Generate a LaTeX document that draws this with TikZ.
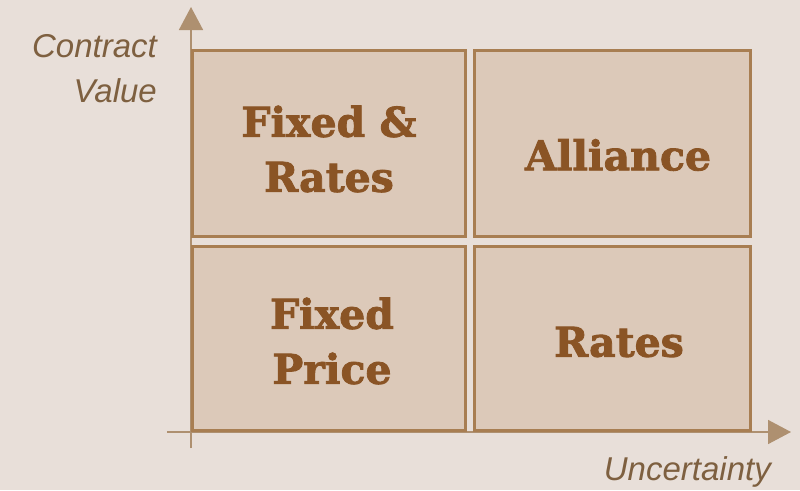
\documentclass[tikz,border=0pt]{standalone}
\usepackage{fontspec}
\setmainfont{DejaVu Serif}
\newfontfamily\cellfont[FakeBold=2]{DejaVu Serif Bold}
\newfontfamily\axisfont{Liberation Sans}
\usetikzlibrary{arrows.meta}
\definecolor{bgc}{HTML}{E8DFD9}
\definecolor{boxfill}{HTML}{DCC9B9}
\definecolor{boxline}{HTML}{A87E52}
\definecolor{txtc}{HTML}{8A5425}
\definecolor{axisc}{HTML}{AE9070}
\definecolor{axtxt}{HTML}{7E6040}
\tikzset{
  cell/.style={draw=boxline, fill=boxfill, line width=3pt},
  celltext/.style={text=txtc, font=\cellfont\fontsize{41}{55}\selectfont, align=center},
  axisline/.style={draw=axisc, line width=1.6pt},
  axisarrow/.style={axisline, -{Triangle[length=23pt,width=24pt]}},
  axislabel/.style={text=axtxt, font=\axisfont\itshape\fontsize{33}{45}\selectfont, inner sep=0pt}
}
\begin{document}
\begin{tikzpicture}[x=1pt,y=-1pt]
\fill[bgc] (0,0) rectangle (800,490);
\useasboundingbox (0,0) rectangle (800,490);
% axes
\coordinate (ybot) at (191,448);
\coordinate (ytop) at (191,7);
\coordinate (xl) at (167,432);
\coordinate (xr) at (791,432);
\draw[axisarrow] (ybot) -- (ytop);
\draw[axisarrow] (xl) -- (xr);
% cells
\draw[cell] (192,50) rectangle (465,236);
\draw[cell] (474,50) rectangle (750,236);
\draw[cell] (192,246) rectangle (465,430);
\draw[cell] (474,246) rectangle (750,430);
\node[celltext] (fr) at (329,149) {Fixed \&\\Rates};
\node[celltext] (al) at (618,155) {Alliance};
\node[celltext] (fp) at (332,341) {Fixed\\Price};
\node[celltext] (ra) at (619,342) {Rates};
% axis labels
\node[axislabel, align=right, anchor=north east] (cv) at (157,34) {Contract\\Value};
\node[axislabel, anchor=north east] (un) at (771,456) {Uncertainty};
\end{tikzpicture}
\end{document}
